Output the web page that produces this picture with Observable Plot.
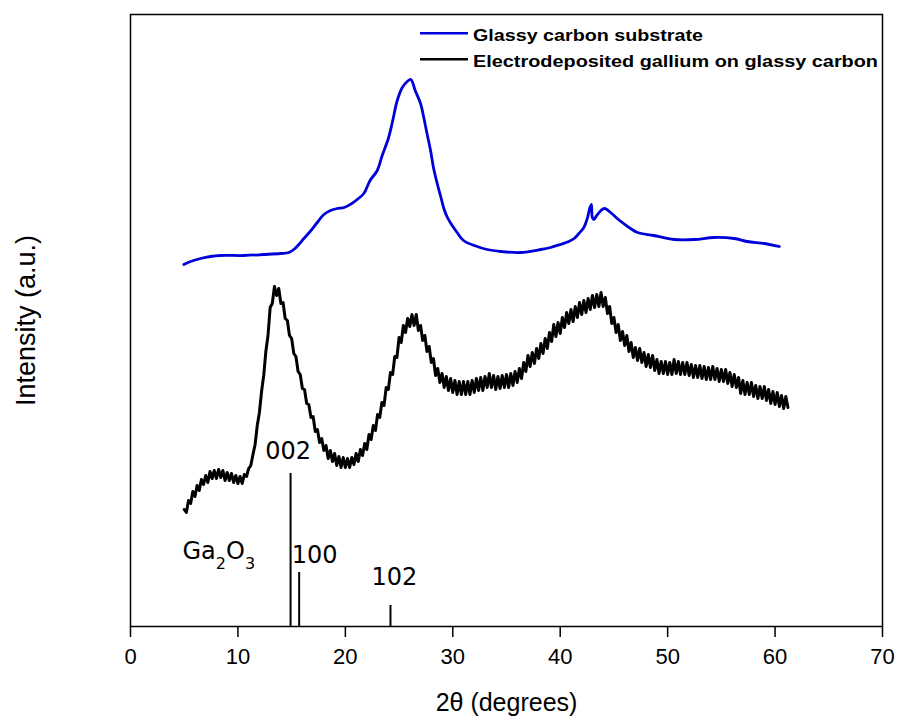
<!DOCTYPE html>
<html>
<head>
<meta charset="utf-8">
<script src="https://cdn.jsdelivr.net/npm/d3@7"></script>
<script src="https://cdn.jsdelivr.net/npm/@observablehq/plot@0.6"></script>
<style>
  html, body { margin: 0; padding: 0; background: white; }
  #chart g[aria-label="x-axis tick label"] { font-size: 22px; }
</style>
</head>
<body>
<div id="chart"></div>
<script>
// ---- data ----
const xTicks = [0, 10, 20, 30, 40, 50, 60, 70];

const seriesNames = ["Glassy carbon substrate", "Electrodeposited gallium on glassy carbon"];
const seriesColors = ["#0000d8", "#000000"];

// Glassy carbon substrate (2θ, intensity a.u.)
const glassyX = [4.96, 5.59, 6.52, 7.45, 8.38, 10.55, 12.41, 13.97, 14.74, 15.2, 15.67, 16.14, 16.8, 17.38, 18.0, 18.62, 19.24, 19.9, 20.6, 21.1, 21.72, 22.3, 22.97, 23.43, 24.0, 24.37, 24.83, 25.3, 25.76, 26.1, 26.5, 27.0, 27.3, 27.6, 27.93, 28.2, 28.55, 28.9, 29.17, 29.5, 29.95, 30.4, 31.0, 32.0, 33.2, 34.5, 36.3, 38.2, 39.1, 40.0, 40.8, 41.3, 41.74, 42.2, 42.52, 42.77, 42.9, 42.99, 43.14, 43.4, 44.1, 44.8, 45.3, 45.9, 46.55, 47.2, 48.7, 50.6, 52.5, 54.3, 56.2, 57.4, 59.0, 60.4];
const glassyY = [362, 365, 368, 370, 371, 371, 372, 373, 374, 377, 382, 388, 396, 404, 412, 416, 418, 419, 423, 427, 433, 446, 456, 471, 488, 504, 526, 539, 545, 547, 536, 523, 509, 493, 476, 459, 443, 429, 418, 409, 401, 394, 386, 381, 377, 375, 374, 377, 379, 382, 385, 388, 393, 399, 408, 419, 422, 409, 407, 411, 418, 413, 408, 403, 398, 394, 391, 387, 387, 389, 388, 385, 383, 380];

// Electrodeposited gallium on glassy carbon (2θ, intensity a.u.), noisy scan
const galliumX = [
  5.0,5.2,5.4,5.6,5.8,6.0,6.2,6.4,6.6,6.8,7.0,7.2,7.4,7.6,7.8,8.0,8.2,8.4,8.6,8.8,
  9.0,9.2,9.4,9.6,9.8,10.0,10.2,10.4,10.6,10.8,11.0,11.2,11.4,11.6,11.8,12.0,12.2,12.4,12.6,12.8,
  13.0,13.2,13.4,13.6,13.8,14.0,14.2,14.4,14.6,14.8,15.0,15.2,15.4,15.6,15.8,16.0,16.2,16.4,16.6,16.8,
  17.0,17.2,17.4,17.6,17.8,18.0,18.2,18.4,18.6,18.8,19.0,19.2,19.4,19.6,19.8,20.0,20.2,20.4,20.6,20.8,
  21.0,21.2,21.4,21.6,21.8,22.0,22.2,22.4,22.6,22.8,23.0,23.2,23.4,23.6,23.8,24.0,24.2,24.4,24.6,24.8,
  25.0,25.2,25.4,25.6,25.8,26.0,26.2,26.4,26.6,26.8,27.0,27.2,27.4,27.6,27.8,28.0,28.2,28.4,28.6,28.8,
  29.0,29.2,29.4,29.6,29.8,30.0,30.2,30.4,30.6,30.8,31.0,31.2,31.4,31.6,31.8,32.0,32.2,32.4,32.6,32.8,
  33.0,33.2,33.4,33.6,33.8,34.0,34.2,34.4,34.6,34.8,35.0,35.2,35.4,35.6,35.8,36.0,36.2,36.4,36.6,36.8,
  37.0,37.2,37.4,37.6,37.8,38.0,38.2,38.4,38.6,38.8,39.0,39.2,39.4,39.6,39.8,40.0,40.2,40.4,40.6,40.8,
  41.0,41.2,41.4,41.6,41.8,42.0,42.2,42.4,42.6,42.8,43.0,43.2,43.4,43.6,43.8,44.0,44.2,44.4,44.6,44.8,
  45.0,45.2,45.4,45.6,45.8,46.0,46.2,46.4,46.6,46.8,47.0,47.2,47.4,47.6,47.8,48.0,48.2,48.4,48.6,48.8,
  49.0,49.2,49.4,49.6,49.8,50.0,50.2,50.4,50.6,50.8,51.0,51.2,51.4,51.6,51.8,52.0,52.2,52.4,52.6,52.8,
  53.0,53.2,53.4,53.6,53.8,54.0,54.2,54.4,54.6,54.8,55.0,55.2,55.4,55.6,55.8,56.0,56.2,56.4,56.6,56.8,
  57.0,57.2,57.4,57.6,57.8,58.0,58.2,58.4,58.6,58.8,59.0,59.2,59.4,59.6,59.8,60.0,60.2,60.4,60.6,60.8,
  61.0,61.2
];
const galliumY = [
  117,114,126,123,135,130,141,136,147,142,151,144,155,148,156,148,157,149,156,146,
  154,146,153,144,151,143,150,143,152,150,158,161,172,182,201,214,235,251,275,291,
  319,323,340,331,338,323,324,308,306,291,288,273,270,255,252,238,237,223,222,209,
  210,195,197,184,188,176,181,168,176,165,173,161,170,159,169,159,168,159,169,162,
  173,165,177,171,183,177,192,187,201,196,212,209,224,221,239,237,254,252,270,269,
  289,284,301,294,308,300,312,301,312,296,301,286,291,275,280,264,268,251,258,244,
  253,239,250,236,248,234,246,232,245,232,245,232,245,232,246,234,248,236,249,236,
  250,239,253,239,251,237,250,238,251,239,252,239,253,241,255,244,258,248,264,255,
  271,260,274,263,278,268,283,273,288,278,294,285,302,290,304,293,309,299,314,303,
  317,305,320,309,324,312,326,314,328,317,331,319,332,320,334,320,329,313,320,303,
  309,294,302,286,295,281,291,275,284,269,279,266,278,264,274,260,272,259,271,256,
  267,253,265,253,265,252,264,252,267,253,265,252,264,252,264,251,262,249,261,249,
  261,248,260,247,259,247,260,247,258,245,257,245,257,243,254,240,252,239,249,233,
  246,232,244,232,244,230,241,228,240,228,240,226,237,223,235,222,234,220,231,218,
  230,219
];

// Ga2O3 reference reflections
const refHKL = ["002", "100", "102"];
const refAngle = [14.9, 15.7, 24.2];
const refIntensity = [153, 54, 21];

const phaseLabel = "Ga2O3";
const xTitle = "2θ (degrees)";
const yTitle = "Intensity (a.u.)";

// ---- tables ----
const glassy = glassyX.map((x, i) => ({x, y: glassyY[i]}));
const gallium = galliumX.map((x, i) => ({x, y: galliumY[i]}));
const refs = refHKL.map((hkl, i) => ({hkl, angle: refAngle[i], intensity: refIntensity[i]}));

const annFont = "'DejaVu Sans', sans-serif";
const offsets = {"002": [-2.5, -21.7], "100": [15.4, -16.7], "102": [4, -28.3]};

const chart = Plot.plot({
  width: 899,
  height: 720,
  marginLeft: 130,
  marginRight: 17,
  marginTop: 14,
  marginBottom: 94,
  style: {fontFamily: "'Liberation Sans', Arial, sans-serif", fontSize: "22px", background: "white", color: "black"},
  x: {domain: [0, 70]},
  y: {domain: [0, 612], axis: null},
  marks: [
    Plot.ruleX(refs, {x: "angle", y1: 0, y2: "intensity", stroke: "black", strokeWidth: 2}),
    Plot.line(glassy, {x: "x", y: "y", stroke: seriesColors[0], strokeWidth: 2.8, curve: "catmull-rom"}),
    Plot.line(gallium, {x: "x", y: "y", stroke: seriesColors[1], strokeWidth: 3}),
    ...refHKL.map(h => Plot.text(refs.filter(d => d.hkl === h), {
      x: "angle", y: "intensity", text: "hkl",
      dx: offsets[h][0], dy: offsets[h][1],
      fontFamily: annFont, fontSize: 24, lineAnchor: "middle", fill: "black"
    })),
    Plot.text([phaseLabel], {
      frameAnchor: "bottom-left", dx: 52, dy: -75, text: d => d,
      textAnchor: "start", lineAnchor: "middle", fontFamily: annFont, fontSize: 24, fill: "black"
    }),
    Plot.frame({stroke: "black", strokeWidth: 1.5}),
    Plot.axisX({ticks: xTicks, tickSize: 11, tickPadding: 11, tickFormat: d => String(d), label: null, strokeWidth: 1.5, fontSize: 22}),
    Plot.text([xTitle], {frameAnchor: "bottom", dy: 76, text: d => d, fontSize: 25, textAnchor: "middle", lineAnchor: "middle", fill: "black"}),
    Plot.text([yTitle], {frameAnchor: "left", rotate: -90, dx: -104, text: d => d, fontSize: 27, textAnchor: "middle", lineAnchor: "middle", fill: "black"})
  ]
});

document.getElementById("chart").appendChild(chart);

// subscripts for Ga2O3
d3.select(chart).selectAll("text").each(function() {
  if (this.textContent === phaseLabel) {
    const t = d3.select(this);
    t.text("");
    t.append("tspan").text("Ga");
    t.append("tspan").attr("font-size", 16).attr("dy", 10).text("2");
    t.append("tspan").attr("dy", -10).text("O");
    t.append("tspan").attr("font-size", 16).attr("dy", 10).text("3");
  }
});

// legend (inside the frame, upper right)
const legendWidths = [230, 405];
const lg = d3.select(chart).append("g").attr("class", "legend").attr("text-anchor", "start");
seriesNames.forEach((name, i) => {
  const cy = 33.3 + i * 26;
  lg.append("line")
    .attr("x1", 420).attr("x2", 468).attr("y1", cy).attr("y2", cy)
    .attr("stroke", seriesColors[i]).attr("stroke-width", 2.5);
  lg.append("text")
    .attr("x", 473).attr("y", cy + 7.5)
    .attr("text-anchor", "start")
    .attr("font-family", "'Liberation Sans', Arial, sans-serif")
    .attr("font-weight", "bold").attr("font-size", 16)
    .attr("textLength", legendWidths[i]).attr("lengthAdjust", "spacingAndGlyphs")
    .attr("fill", "black")
    .text(name);
});
</script>
</body>
</html>
